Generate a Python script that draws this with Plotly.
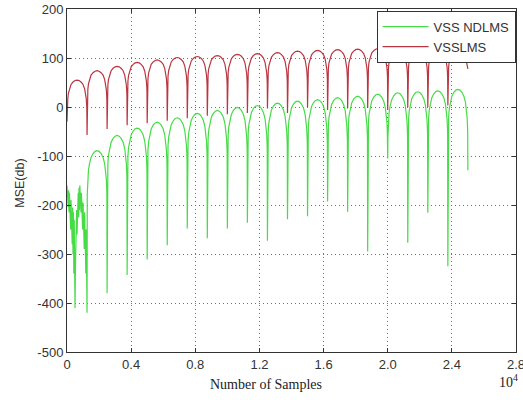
import plotly.graph_objects as go

# ---------------- data ----------------
PERIOD = 1250  # samples between consecutive dips

# VSSLMS (red): value at x=0, dip values at k*PERIOD (k=1..19), end value at 25000
RED_DIPS = [-30, -57, -45, -37, -33, -28, -23, -18, -15, -12, -3, -12, 0, -6, -3,
            -2, -6, 0, 0, 3, 78]
# arch peaks for arches k=0..19
RED_PEAKS = [55, 74, 83, 91, 96, 101, 103, 105, 107.5, 109, 111, 114, 115.5, 117,
             118, 119, 119, 120, 120, 120]

# VSS NDLMS (green): noisy start (0..1225 samples)
GREEN_START_X = [0, 25, 50, 75, 100, 125, 150, 175, 200, 225, 250, 275, 300, 325,
                 350, 375, 400, 425, 450, 475, 500, 525, 550, 575, 600, 625, 650,
                 675, 700, 725, 750, 775, 800, 825, 850, 875, 900, 925, 950, 975,
                 1000, 1025, 1050, 1075, 1100, 1125, 1150, 1175, 1200, 1225]
GREEN_START_Y = [-160, -195, -165, -205, -170, -215, -175, -230, -185, -250, -190,
                 -265, -200, -280, -205, -300, -215, -340, -230, -380, -410, -330,
                 -240, -290, -210, -260, -190, -240, -175, -225, -165, -210, -160,
                 -200, -165, -215, -175, -235, -185, -250, -195, -270, -205, -290,
                 -215, -310, -230, -340, -250, -370]
# dips at k*PERIOD for k=1..19 and end value at 25000
GREEN_DIPS = [-420, -380, -343, -311, -282, -248, -268, -248, -236, -273, -229,
              -223, -193, -214, -295, -105, -277, -216, -325, -129]
# arch peaks for arches k=1..19
GREEN_PEAKS = [-89, -58, -43, -31, -22, -13, -7, -1, 3, 8, 12, 15, 19, 22, 26, 29,
               31, 33, 36]

# arch profile: fraction of period from the dip, and drop below the arch peak
PROFILE_T = [0.01, 0.02, 0.04, 0.07, 0.12, 0.2, 0.3, 0.4, 0.5]
RED_DROP = [60, 50, 38, 27, 18, 9, 4, 1, 0]
GREEN_DROP = [90, 75, 57, 40, 27, 14, 6, 1.5, 0]

X_TICKS = [0, 4000, 8000, 12000, 16000, 20000, 24000, 28000]
X_TICKTEXT = ["0", "0.4", "0.8", "1.2", "1.6", "2.0", "2.4", "2.8"]
Y_TICKS = [-500, -400, -300, -200, -100, 0, 100, 200]
Y_TICKTEXT = ["-500", "-400", "-300", "-200", "-100", "0", "100", "200"]


def arches(first_k, peaks, dips, drop):
    xs, ys = [], []
    n = len(peaks)
    end_val = dips[n]
    for i, p in enumerate(peaks):
        x0 = (first_k + i) * PERIOD
        xs.append(x0)
        ys.append(dips[i])
        for t, d in zip(PROFILE_T, drop):
            xs.append(x0 + t * PERIOD)
            ys.append(p - d)
        for t, d in zip(reversed(PROFILE_T[:-1]), reversed(drop[:-1])):
            v = p - d
            if i == n - 1 and v < end_val:
                continue
            xs.append(x0 + (1 - t) * PERIOD)
            ys.append(v)
    xs.append((first_k + n) * PERIOD)
    ys.append(end_val)
    return xs, ys


rx, ry = arches(0, RED_PEAKS, RED_DIPS, RED_DROP)
gx, gy = arches(1, GREEN_PEAKS, GREEN_DIPS, GREEN_DROP)
gx = GREEN_START_X + gx
gy = GREEN_START_Y + gy

fig = go.Figure()
fig.add_trace(go.Scatter(x=gx, y=gy, mode="lines", name="VSS NDLMS",
                         line=dict(color="#45dc45", width=1.2)))
fig.add_trace(go.Scatter(x=rx, y=ry, mode="lines", name="VSSLMS",
                         line=dict(color="#bb3540", width=1.2)))

axis_common = dict(showline=True, linecolor="#333333", linewidth=1, mirror="ticks",
                   ticks="inside", ticklen=4, tickcolor="#333333", automargin=False,
                   ticklabeloverflow="allow",
                   showgrid=True, gridcolor="#707070", griddash="1px,3px", gridwidth=1,
                   zeroline=False, tickfont=dict(family="Liberation Sans", size=13,
                                                 color="#333333"))
fig.update_xaxes(range=[0, 28000], tickvals=X_TICKS, ticktext=X_TICKTEXT, **axis_common)
fig.update_yaxes(range=[-500, 200], tickvals=Y_TICKS, ticktext=Y_TICKTEXT, **axis_common)

fig.update_layout(
    width=523, height=400,
    margin=dict(l=67, r=7, t=9, b=48),
    paper_bgcolor="white", plot_bgcolor="white",
    showlegend=True,
    legend=dict(x=0.999, xanchor="right", y=0.995, yanchor="top",
                bgcolor="white", bordercolor="#333333", borderwidth=1,
                itemwidth=46,
                font=dict(family="Liberation Sans", size=13, color="#333333"),
                tracegroupgap=0),
    annotations=[
        dict(text="Number of Samples", x=0.443, y=-0.096, xref="paper", yref="paper",
             showarrow=False, xanchor="center", yanchor="middle",
             font=dict(family="Liberation Serif", size=14, color="#222222")),
        dict(text="10<sup>4</sup>", x=0.984, y=-0.085, xref="paper", yref="paper",
             showarrow=False, xanchor="center", yanchor="middle",
             font=dict(family="Liberation Serif", size=14, color="#222222")),
        dict(text="MSE(db)", x=-0.105, y=0.493, xref="paper", yref="paper",
             showarrow=False, xanchor="center", yanchor="middle", textangle=-90,
             font=dict(family="Liberation Sans", size=12.5, color="#333333")),
    ],
)

# remove the browser's default 8px page margin so the 523x400 figure fills the window
fig.write_html("out.html", config={"displayModeBar": False},
               post_script="document.body.style.margin='0';")
